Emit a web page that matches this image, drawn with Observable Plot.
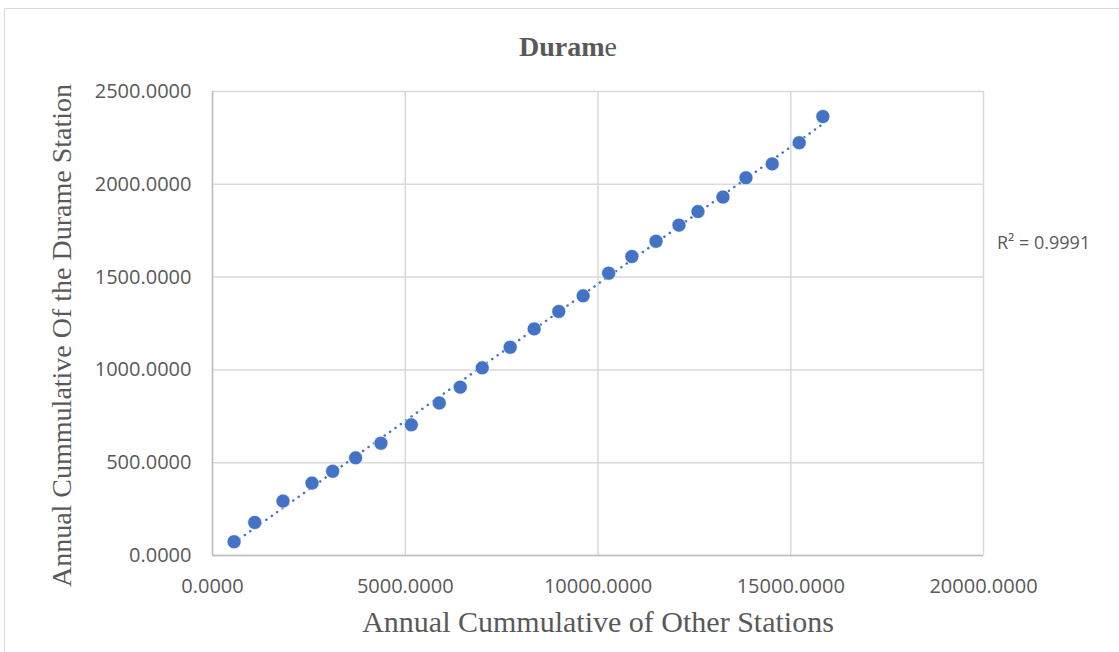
<!DOCTYPE html>
<html>
<head>
<meta charset="utf-8">
<script src="https://cdn.jsdelivr.net/npm/d3@7"></script>
<script src="https://cdn.jsdelivr.net/npm/@observablehq/plot@0.6"></script>
<style>
  html, body { margin: 0; padding: 0; background: #fff; overflow: hidden; }
  body { width: 1119px; height: 652px; position: relative; }
  #frame { position: absolute; left: 4px; top: 8px; width: 1300px; height: 800px; border: 1.5px solid #d9d9d9; box-sizing: border-box; }
  #title { position: absolute; left: 0; top: 33px; width: 1136px; text-align: center; font-family: "Liberation Serif", serif; font-size: 28px; line-height: 28px; color: #595959; }
  #chart { position: absolute; left: 0; top: 70px; }
  #r2 { position: absolute; left: 997px; top: 230px; font-family: "Open Sans", sans-serif; font-size: 18px; color: #595959; white-space: nowrap; }
</style>
</head>
<body>
<div id="frame"></div>
<div id="title"><b>Duram</b>e</div>
<div id="chart"></div>
<div id="r2">R² = 0.9991</div>
<script>
const otherStations = [560, 1096, 1829, 2581, 3117, 3713, 4369, 5157, 5882, 6426, 6997, 7722, 8344, 8982, 9614, 10277, 10878, 11506, 12101, 12594, 13242, 13838, 14519, 15219, 15833];
const durameStation = [74, 178, 293, 390, 454, 526, 605, 704, 822, 907, 1011, 1122, 1221, 1315, 1399, 1521, 1611, 1693, 1780, 1853, 1931, 2035, 2110, 2224, 2365];
const xTicks = [0, 5000, 10000, 15000, 20000];
const yTicks = [0, 500, 1000, 1500, 2000, 2500];
const xTitle = "Annual Cummulative of Other Stations";
const yTitle = "Annual Cummulative Of the Durame Station";

const data = otherStations.map((x, i) => ({x, y: durameStation[i]}));
const fmt = d => d.toFixed(4);
const blue = "#4472C4";
const grey = "#595959";

const chart = Plot.plot({
  width: 1119,
  height: 582,
  marginTop: 21,
  marginBottom: 97,
  marginLeft: 212,
  marginRight: 136,
  x: {domain: [0, 20000]},
  y: {domain: [0, 2500]},
  style: {background: "transparent", overflow: "visible"},
  marks: [
    Plot.gridX(xTicks, {stroke: "#d9d9d9", strokeOpacity: 1, strokeWidth: 1.5}),
    Plot.gridY(yTicks, {stroke: "#d9d9d9", strokeOpacity: 1, strokeWidth: 1.5}),
    Plot.ruleX([0], {stroke: "#bfbfbf", strokeWidth: 1.5}),
    Plot.ruleY([0], {stroke: "#bfbfbf", strokeWidth: 1.5}),
    Plot.linearRegressionY(data, {x: "x", y: "y", ci: 0, stroke: blue, strokeWidth: 2.5, strokeDasharray: "0.1,6.5", strokeLinecap: "round"}),
    Plot.dot(data, {x: "x", y: "y", r: 7, fill: blue, stroke: "white", strokeWidth: 0.6}),
    Plot.axisX(xTicks, {tickSize: 0, tickPadding: 23, tickFormat: fmt, fontSize: 20, fontFamily: "Open Sans", color: grey, label: null}),
    Plot.axisY(yTicks, {tickSize: 0, tickPadding: 21, tickFormat: fmt, fontSize: 20, fontFamily: "Open Sans", color: grey, label: null}),
    Plot.text([xTitle], {frameAnchor: "bottom", dy: 67, lineAnchor: "middle", fontSize: 30, fontFamily: "Liberation Serif", fill: grey}),
    Plot.text([yTitle], {frameAnchor: "left", textAnchor: "middle", rotate: -90, dx: -150, dy: 12, lineAnchor: "middle", fontSize: 28, fontFamily: "Liberation Serif", fill: grey})
  ]
});
document.getElementById("chart").appendChild(chart);
</script>
</body>
</html>
